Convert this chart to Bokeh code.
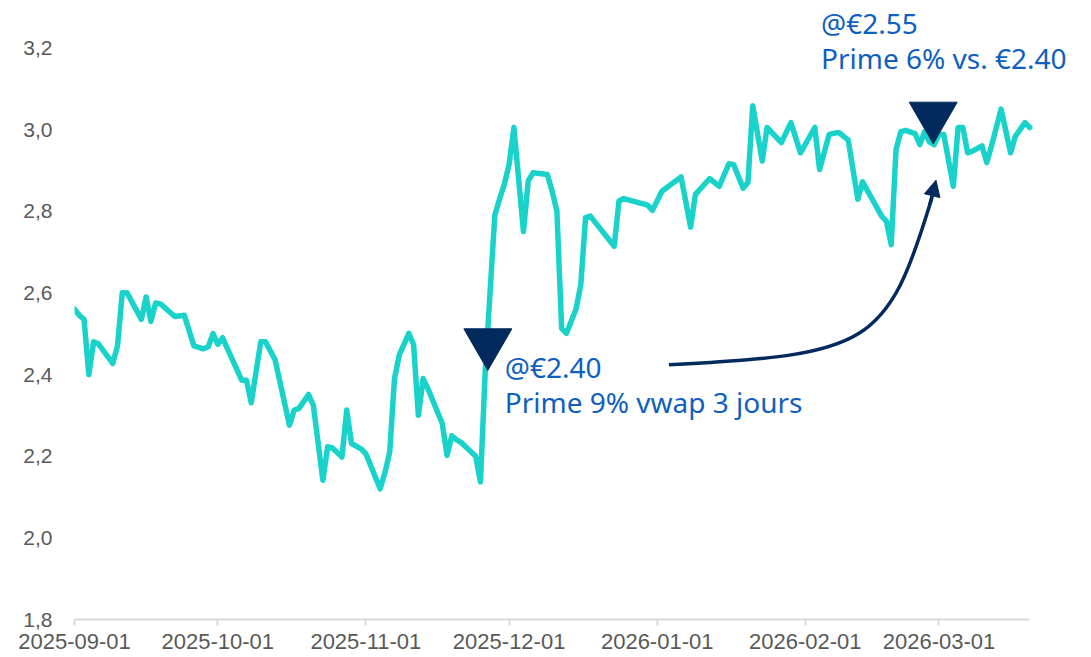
import pandas as pd
from bokeh.plotting import figure
from bokeh.models import ColumnDataSource, Range1d, FixedTicker, DatetimeTickFormatter, Arrow, NormalHead, Label
from bokeh.embed import file_html
from bokeh.resources import INLINE

# ---- data ----
dates = [
    "2025-09-01", "2025-09-02", "2025-09-03", "2025-09-04", "2025-09-05", "2025-09-06",
    "2025-09-09", "2025-09-10", "2025-09-11", "2025-09-12", "2025-09-15", "2025-09-16",
    "2025-09-17", "2025-09-18", "2025-09-19", "2025-09-22", "2025-09-24", "2025-09-26",
    "2025-09-28", "2025-09-29", "2025-09-30", "2025-10-01", "2025-10-02", "2025-10-06",
    "2025-10-07", "2025-10-08", "2025-10-10", "2025-10-11", "2025-10-13", "2025-10-16",
    "2025-10-17", "2025-10-18", "2025-10-20", "2025-10-21", "2025-10-23", "2025-10-24",
    "2025-10-25", "2025-10-27", "2025-10-28", "2025-10-29", "2025-10-31", "2025-11-01",
    "2025-11-04", "2025-11-05", "2025-11-06", "2025-11-07", "2025-11-08", "2025-11-10",
    "2025-11-11", "2025-11-12", "2025-11-13", "2025-11-14", "2025-11-17", "2025-11-18",
    "2025-11-19", "2025-11-20", "2025-11-21", "2025-11-24", "2025-11-25", "2025-11-26",
    "2025-11-27", "2025-11-28", "2025-11-29", "2025-11-30", "2025-12-01", "2025-12-02",
    "2025-12-04", "2025-12-05", "2025-12-06", "2025-12-09", "2025-12-10", "2025-12-11",
    "2025-12-12", "2025-12-13", "2025-12-15", "2025-12-16", "2025-12-17", "2025-12-18",
    "2025-12-23", "2025-12-24", "2025-12-25", "2025-12-30", "2025-12-31", "2026-01-02",
    "2026-01-06", "2026-01-08", "2026-01-09", "2026-01-12", "2026-01-14", "2026-01-16",
    "2026-01-17", "2026-01-19", "2026-01-20", "2026-01-21", "2026-01-23", "2026-01-24",
    "2026-01-27", "2026-01-29", "2026-01-31", "2026-02-03", "2026-02-04", "2026-02-06",
    "2026-02-08", "2026-02-10", "2026-02-12", "2026-02-13", "2026-02-17", "2026-02-18",
    "2026-02-19", "2026-02-20", "2026-02-21", "2026-02-22", "2026-02-24", "2026-02-25",
    "2026-02-26", "2026-02-27", "2026-02-28", "2026-03-01", "2026-03-02", "2026-03-04",
    "2026-03-05", "2026-03-06", "2026-03-07", "2026-03-08", "2026-03-10", "2026-03-11",
    "2026-03-12", "2026-03-14", "2026-03-16", "2026-03-17", "2026-03-19", "2026-03-20",
]
prices = [
    2.56, 2.545, 2.535, 2.40, 2.48, 2.475,
    2.427, 2.47, 2.60, 2.60, 2.535, 2.59,
    2.53, 2.575, 2.573, 2.542, 2.545, 2.47,
    2.463, 2.468, 2.50, 2.474, 2.49, 2.386,
    2.386, 2.331, 2.48, 2.48, 2.436, 2.276,
    2.313, 2.317, 2.351, 2.325, 2.141, 2.223,
    2.22, 2.198, 2.313, 2.231, 2.218, 2.206,
    2.12, 2.16, 2.21, 2.39, 2.448, 2.501,
    2.473, 2.30, 2.39, 2.365, 2.28, 2.202,
    2.25, 2.24, 2.233, 2.20, 2.137, 2.41,
    2.60, 2.79, 2.83, 2.866, 2.915, 3.005,
    2.75, 2.874, 2.894, 2.89, 2.849, 2.80,
    2.513, 2.501, 2.56, 2.62, 2.784, 2.788,
    2.714, 2.825, 2.831, 2.815, 2.802, 2.849,
    2.884, 2.761, 2.841, 2.88, 2.861, 2.916,
    2.914, 2.856, 2.87, 3.058, 2.923, 3.005,
    2.968, 3.017, 2.943, 3.005, 2.902, 2.988,
    2.993, 2.974, 2.829, 2.872, 2.788, 2.775,
    2.718, 2.95, 2.995, 2.998, 2.99, 2.963,
    2.995, 2.97, 2.963, 2.988, 2.988, 2.861,
    3.005, 3.005, 2.943, 2.947, 2.96, 2.919,
    2.96, 3.05, 2.943, 2.984, 3.017, 3.005,
]

y_ticks = [1.8, 2.0, 2.2, 2.4, 2.6, 2.8, 3.0, 3.2]
y_tick_labels = ["1,8", "2,0", "2,2", "2,4", "2,6", "2,8", "3,0", "3,2"]
x_tick_dates = ["2025-09-01", "2025-10-01", "2025-11-01", "2025-12-01",
                "2026-01-01", "2026-02-01", "2026-03-01"]
x_start, x_end = "2025-09-01", "2026-03-20"      # extent of the x axis line
x_view_end = "2026-03-29 14:00"                  # room on the right for the annotation text
y_start, y_end = 1.8, 3.316

# annotations
marker_dates = ["2025-11-26 13:00", "2026-02-27 19:00"]
marker_values = [2.478, 3.033]
label_dates = ["2025-11-30 02:00", "2026-02-04 07:00"]
label_line1 = ["@€2.40", "@€2.55"]
label_line2 = ["Prime 9% vwap 3 jours", "Prime 6% vs. €2.40"]
label_y1 = [2.419, 3.262]
label_y2 = [2.333, 3.176]
# curved arrow (start, control 1, control 2, end) and arrow head segment
curve_dates = ["2026-01-03 11:00", "2026-02-14 08:00", "2026-02-18 03:00", "2026-02-27 13:00"]
curve_values = [2.424, 2.449, 2.466, 2.834]
head_dates = ["2026-02-27 03:00", "2026-02-28 09:00"]
head_values = [2.817, 2.876]


def ms(s):
    return pd.Timestamp(s).value / 1e6


TEAL = "#19D3CB"
NAVY = "#022A5C"
BLUE = "#0F5FC0"
GREY = "#595959"

p = figure(width=1075, height=655, x_axis_type="datetime",
           x_range=Range1d(ms(x_start), ms(x_view_end)), y_range=Range1d(y_start, y_end),
           output_backend="svg", toolbar_location=None,
           min_border_left=74, min_border_right=0, min_border_top=0, min_border_bottom=36)
p.outline_line_color = None
p.background_fill_color = "white"
p.border_fill_color = "white"
p.xgrid.visible = False
p.ygrid.visible = False

src = ColumnDataSource(dict(x=pd.to_datetime(dates), y=prices))
p.line("x", "y", source=src, line_color=TEAL, line_width=5.5, line_join="round", line_cap="round")

# markers
p.scatter(x=[ms(d) for d in marker_dates], y=marker_values, marker="inverted_triangle",
          size=48, fill_color=NAVY, line_color=NAVY)

# labels
for d, t1, t2, y1, y2 in zip(label_dates, label_line1, label_line2, label_y1, label_y2):
    for txt, yy in ((t1, y1), (t2, y2)):
        p.add_layout(Label(x=ms(d), y=yy, text=txt, text_font="Noto Sans", text_font_size="28px",
                           text_color=BLUE, text_baseline="middle", text_align="left"))

# curved arrow
cx = [ms(d) for d in curve_dates]
p.bezier(x0=[cx[0]], y0=[curve_values[0]], cx0=[cx[1]], cy0=[curve_values[1]],
         cx1=[cx[2]], cy1=[curve_values[2]], x1=[cx[3]], y1=[curve_values[3]],
         line_color=NAVY, line_width=3.5)
p.add_layout(Arrow(end=NormalHead(size=16, fill_color=NAVY, line_color=NAVY, line_width=1),
                   x_start=ms(head_dates[0]), y_start=head_values[0],
                   x_end=ms(head_dates[1]), y_end=head_values[1],
                   line_color=NAVY, line_width=3.5))

# axes
xa = p.xaxis[0]
xa.bounds = (ms(x_start), ms(x_end))
xa.ticker = FixedTicker(ticks=[ms(d) for d in x_tick_dates])
fmt = "%Y-%m-%d"
xa.formatter = DatetimeTickFormatter(milliseconds=fmt, seconds=fmt, minsec=fmt, minutes=fmt,
                                     hourmin=fmt, hours=fmt, days=fmt, months=fmt, years=fmt)
xa.axis_line_color = "#D9D9D9"
xa.axis_line_width = 2
xa.major_tick_line_color = "#D9D9D9"
xa.major_tick_line_width = 2
xa.major_tick_out = 6
xa.major_tick_in = 0
xa.minor_tick_line_color = None
xa.major_label_standoff = 8
xa.major_label_text_font = "Liberation Sans"
xa.major_label_text_font_size = "22px"
xa.major_label_text_color = GREY

ya = p.yaxis[0]
ya.ticker = FixedTicker(ticks=y_ticks)
ya.major_label_overrides = {t: l for t, l in zip(y_ticks, y_tick_labels)}
ya.axis_line_color = None
ya.major_tick_line_color = None
ya.minor_tick_line_color = None
ya.major_tick_out = 0
ya.major_tick_in = 0
ya.major_label_standoff = 22
ya.major_label_text_font = "Liberation Sans"
ya.major_label_text_font_size = "21px"
ya.major_label_text_color = GREY

open("out.html", "w").write(file_html(p, INLINE))
